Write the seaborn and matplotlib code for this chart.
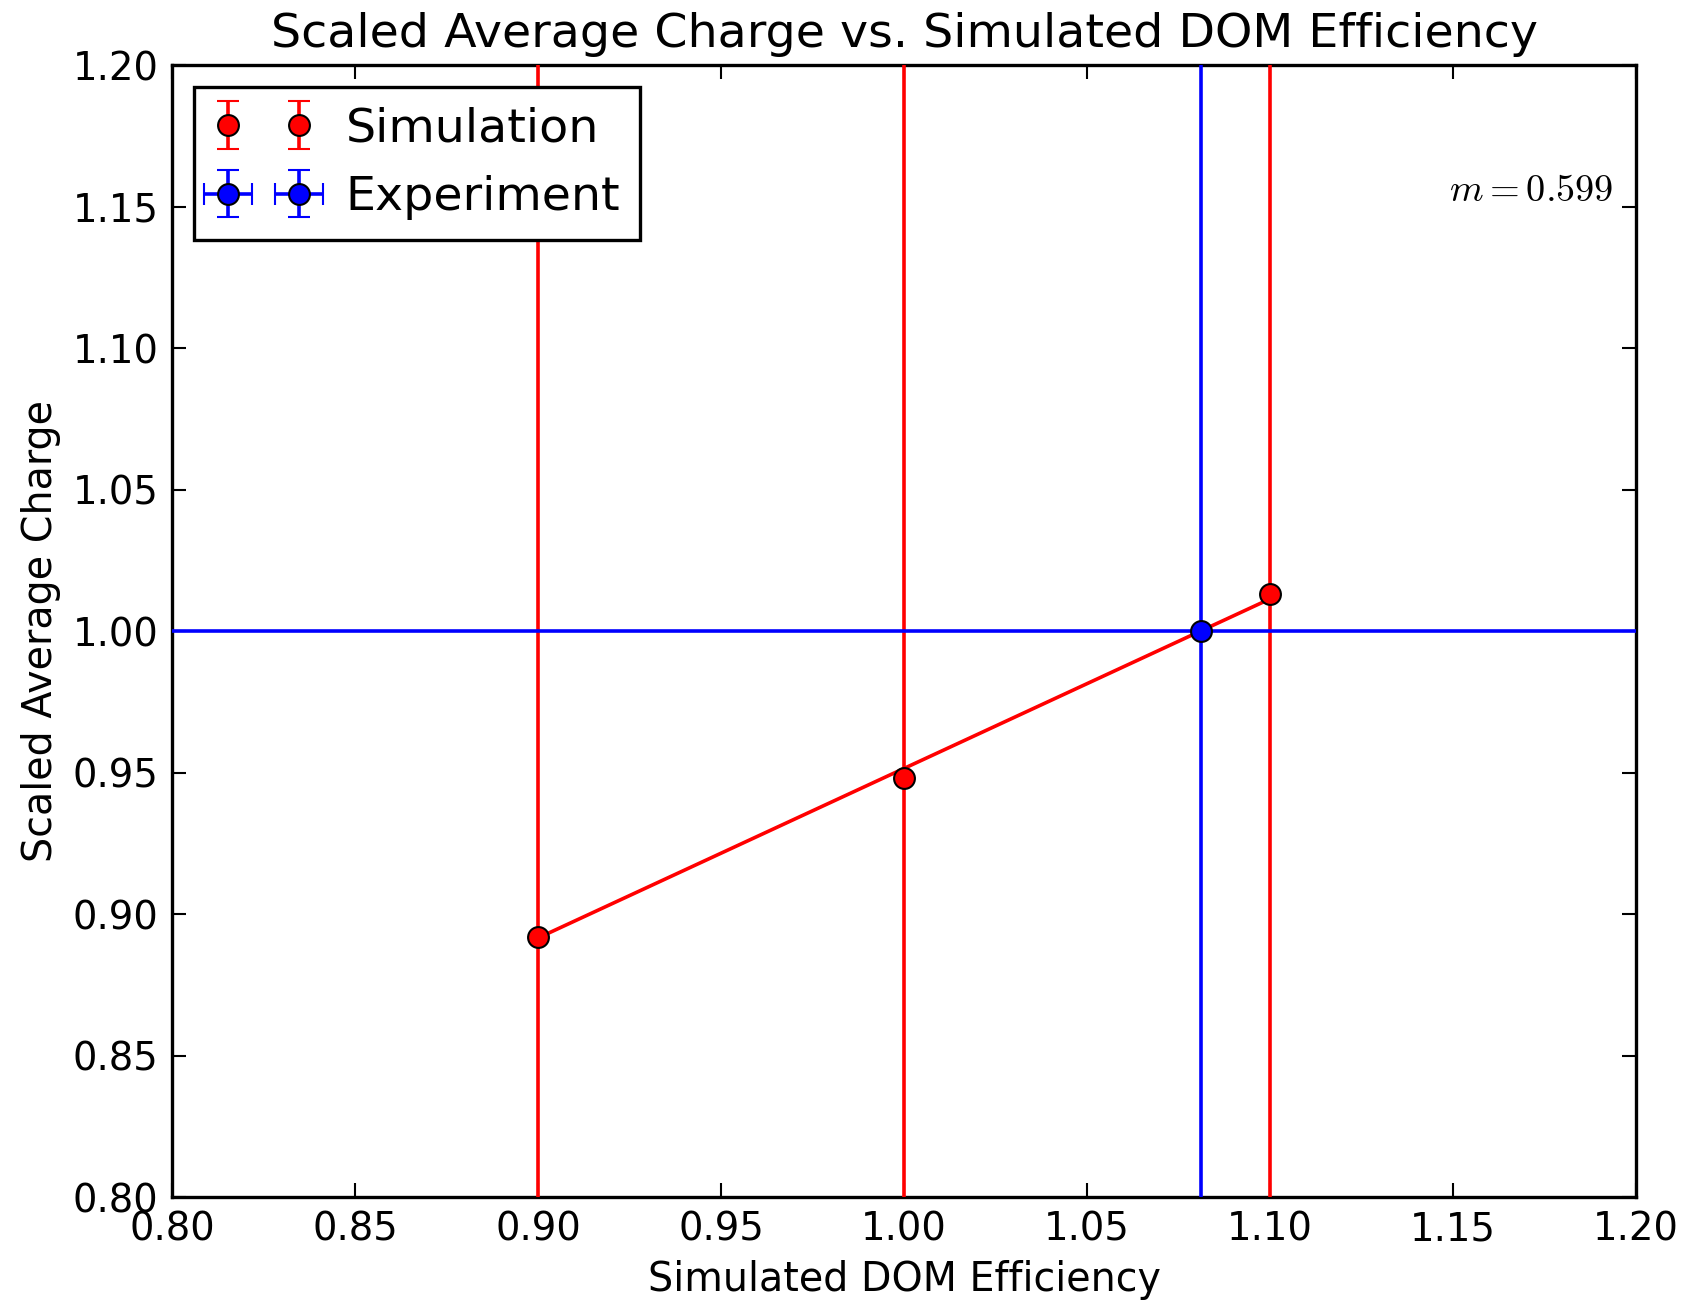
import matplotlib
matplotlib.use("Agg")
import matplotlib.pyplot as plt
import seaborn as sns
import pandas as pd

# Data
sim_eff = [0.90, 1.00, 1.10]
sim_charge = [0.892, 0.948, 1.013]
sim_err = [0.5, 0.5, 0.5]
exp_eff = [1.081]
exp_charge = [1.000]
exp_xerr = [0.5]
exp_yerr = [0.5]
fit_eff = [0.90, 1.10]
fit_charge = [0.8916, 1.0114]
slope_label = r"$m = 0.599$"
xticks = [0.80, 0.85, 0.90, 0.95, 1.00, 1.05, 1.10, 1.15, 1.20]
yticks = [0.80, 0.85, 0.90, 0.95, 1.00, 1.05, 1.10, 1.15, 1.20]

sns.set_style("ticks")
plt.rcParams["font.family"] = ["DejaVu Sans"]
plt.rcParams["mathtext.fontset"] = "cm"
plt.rcParams["text.color"] = "black"
plt.rcParams["axes.labelcolor"] = "black"
plt.rcParams["xtick.color"] = "black"
plt.rcParams["ytick.color"] = "black"

fig = plt.figure(figsize=(16.9, 13.04), dpi=100)
ax = fig.add_axes([0.102, 0.082, 0.866, 0.868])

LW = 2.6
fit_df = pd.DataFrame({"eff": fit_eff, "charge": fit_charge})
sns.lineplot(data=fit_df, x="eff", y="charge", ax=ax, color="red", lw=LW, zorder=3, legend=False)

ax.errorbar(sim_eff, sim_charge, yerr=sim_err, fmt="o", color="red", ecolor="red",
            mfc="red", mec="black", mew=1.5, ms=15, elinewidth=LW, capsize=8, capthick=LW,
            label="Simulation", zorder=4)
ax.errorbar(exp_eff, exp_charge, xerr=exp_xerr, yerr=exp_yerr, fmt="o", color="blue", ecolor="blue",
            mfc="blue", mec="black", mew=1.5, ms=15, elinewidth=LW, capsize=8, capthick=LW,
            label="Experiment", zorder=4)

ax.set_xlim(0.80, 1.20)
ax.set_ylim(0.80, 1.20)
ax.set_xticks(xticks)
ax.set_yticks(yticks)
ax.set_xticklabels([f"{v:.2f}" for v in xticks])
ax.set_yticklabels([f"{v:.2f}" for v in yticks])
ax.tick_params(direction="in", length=10, width=1.5, labelsize=27.8, top=True, right=True, pad=10)
for s in ax.spines.values():
    s.set_linewidth(2.4)
    s.set_color("black")

ax.set_title("Scaled Average Charge vs. Simulated DOM Efficiency", fontsize=34.2, pad=13)
ax.set_xlabel("Simulated DOM Efficiency", fontsize=28.5, labelpad=8)
ax.set_ylabel("Scaled Average Charge", fontsize=28.5, labelpad=8)

ax.text(1.194, 1.1555, slope_label, fontsize=27.6, ha="right", va="center")

leg = ax.legend(loc="upper left", numpoints=2, fontsize=34.2, frameon=True, fancybox=False,
                edgecolor="black", framealpha=1, borderpad=0.42, handlelength=2.1, handletextpad=0.68,
                borderaxespad=0.45)
leg.get_frame().set_linewidth(2.4)

fig.savefig("out.png", dpi=100)
